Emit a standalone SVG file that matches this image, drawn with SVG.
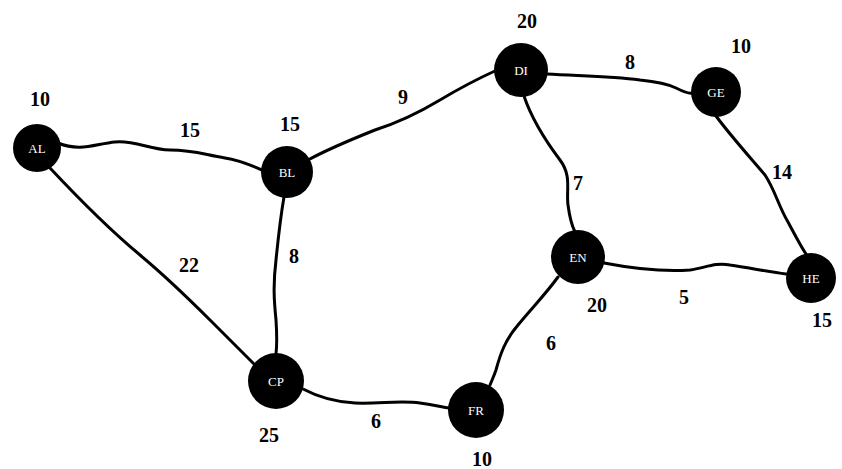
<svg xmlns="http://www.w3.org/2000/svg" width="842" height="469" viewBox="0 0 842 469">
<style>
.e{fill:none;stroke:#000;stroke-width:3;stroke-linecap:round}
.n{fill:#000}
.l{font-family:"Liberation Serif",serif;font-size:13px;fill:#fff;text-anchor:middle}
.w{font-family:"Liberation Serif",serif;font-weight:bold;font-size:20px;fill:#000;text-anchor:middle}
</style>
<rect width="842" height="469" fill="#fff"/>
<g id="connectors">
<path class="e" d="M58,143 C80,152 95,144 115,142 C135,140 150,150 170,150 C195,150 205,155 225,158 C240,160 250,165 262,170"/>
<path class="e" d="M308,160 C330,148 350,140 375,130 C400,122 420,112 440,100 C460,88 475,80 497,70"/>
<path class="e" d="M547,74 C580,76 610,76 640,80 C660,82 668,84 676,88 C682,91 688,94 692,93"/>
<path class="e" d="M524,96 C532,120 545,140 560,160 C572,176 566,190 568,205 C570,220 573,228 575,232"/>
<path class="e" d="M716,116 C730,135 748,155 765,175 C775,190 778,205 788,222 C795,235 800,245 806,254"/>
<path class="e" d="M604,263 C630,268 660,272 690,270 C705,268 715,262 730,265 C750,268 770,272 786,274"/>
<path class="e" d="M50,168 C80,200 110,230 140,255 C170,280 190,300 210,320 C230,340 245,355 254,364"/>
<path class="e" d="M284,197 C280,220 278,240 276,260 C273,285 274,300 276,320 C277,335 277,345 276,354"/>
<path class="e" d="M303,389 C320,398 335,402 355,403 C380,404 400,400 420,403 C435,405 442,407 449,408"/>
<path class="e" d="M558,277 C545,295 530,310 518,325 C505,340 500,355 496,370 C494,376 492,380 490,385"/>
</g>
<g id="AL"><circle class="n" cx="37" cy="148" r="24"/><text class="l" x="37" y="153">AL</text><text class="w" x="40" y="106">10</text></g>
<g id="BL"><circle class="n" cx="287" cy="172" r="26"/><text class="l" x="287" y="177">BL</text><text class="w" x="290" y="131">15</text></g>
<g id="DI"><circle class="n" cx="521" cy="70" r="27"/><text class="l" x="521" y="75">DI</text><text class="w" x="527" y="28">20</text></g>
<g id="GE"><circle class="n" cx="716" cy="92" r="25"/><text class="l" x="716" y="97">GE</text><text class="w" x="741" y="53">10</text></g>
<g id="EN"><circle class="n" cx="578" cy="257" r="27"/><text class="l" x="578" y="262">EN</text><text class="w" x="597" y="312">20</text></g>
<g id="HE"><circle class="n" cx="811" cy="278" r="25"/><text class="l" x="811" y="283">HE</text><text class="w" x="822" y="327">15</text></g>
<g id="CP"><circle class="n" cx="276" cy="381" r="28"/><text class="l" x="276" y="386">CP</text><text class="w" x="269" y="442">25</text></g>
<g id="FR"><circle class="n" cx="476" cy="410" r="28"/><text class="l" x="476" y="415">FR</text><text class="w" x="482" y="466">10</text></g>
<g id="edge-labels">
<text class="w" x="190" y="137">15</text>
<text class="w" x="403" y="104">9</text>
<text class="w" x="630" y="69">8</text>
<text class="w" x="578" y="190">7</text>
<text class="w" x="782" y="179">14</text>
<text class="w" x="189" y="272">22</text>
<text class="w" x="294" y="263">8</text>
<text class="w" x="684" y="304">5</text>
<text class="w" x="551" y="350">6</text>
<text class="w" x="376" y="428">6</text>
</g>
</svg>
